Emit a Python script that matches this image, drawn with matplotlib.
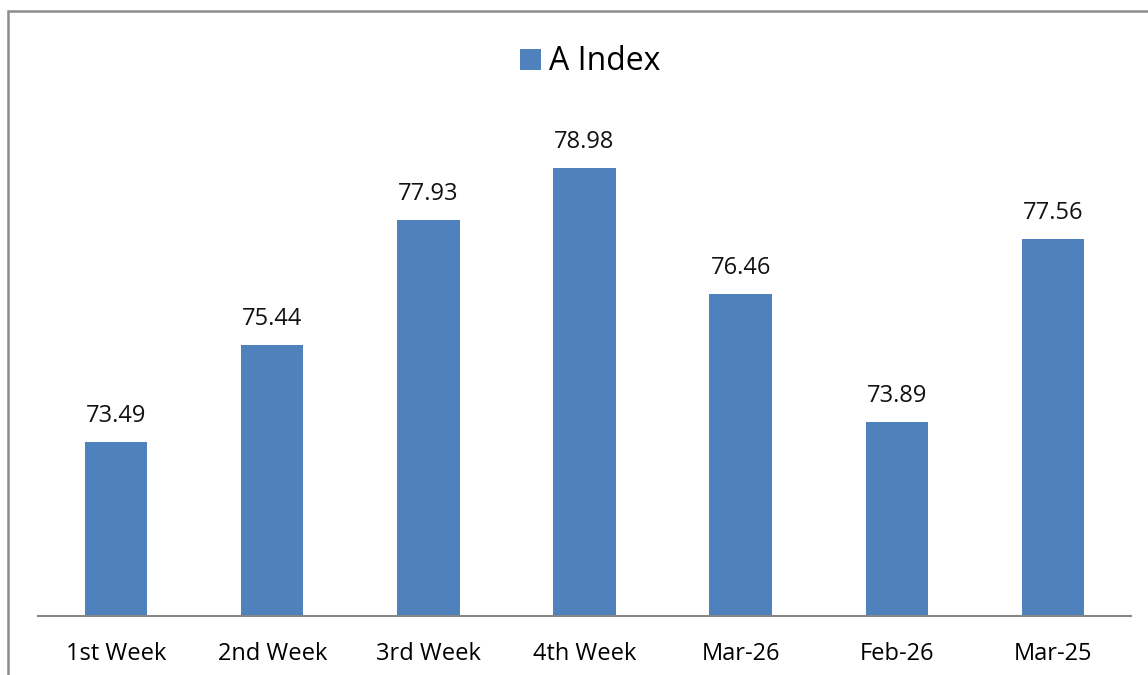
import matplotlib.pyplot as plt
from matplotlib.patches import Rectangle

categories = ['1st Week', '2nd Week', '3rd Week', '4th Week', 'Mar-26', 'Feb-26', 'Mar-25']
a_index = [73.49, 75.44, 77.93, 78.98, 76.46, 73.89, 77.56]

plt.rcParams['font.family'] = ['Open Sans', 'DejaVu Sans']

fig = plt.figure(figsize=(11.48, 6.75), dpi=100)
# рамка вокруг диаграммы
fig.patches.append(Rectangle((8 / 1148, -0.05), 1.2, 1 - 11 / 675 + 0.05,
                             transform=fig.transFigure, fill=False,
                             edgecolor='#8c8c8c', linewidth=1.8))

ax = fig.add_axes([38 / 1148, 59 / 675, 1093 / 1148, 499 / 675])
x = range(len(categories))
bars = ax.bar(x, a_index, width=0.4, color='#4F81BD', label='A Index')
ax.set_xlim(-0.5, len(categories) - 0.5)
ax.set_ylim(70, 80)

for b, v in zip(bars, a_index):
    ax.annotate(f'{v:.2f}', (b.get_x() + b.get_width() / 2, v),
                xytext=(0, 10), textcoords='offset points',
                ha='center', va='bottom', fontsize=17, color='#111111')

ax.set_xticks(list(x))
ax.set_xticklabels(categories, fontsize=17)
ax.tick_params(axis='x', length=0, pad=19)
ax.set_yticks([])
for s in ['top', 'right', 'left']:
    ax.spines[s].set_visible(False)
ax.spines['bottom'].set_color('#868686')
ax.spines['bottom'].set_linewidth(1.5)

fig.legend(loc='center', bbox_to_anchor=(590 / 1148, 1 - 62 / 675), frameon=False,
           fontsize=23, handlelength=0.65, handleheight=0.65, handletextpad=0.25)

fig.savefig('out.png', dpi=100)
